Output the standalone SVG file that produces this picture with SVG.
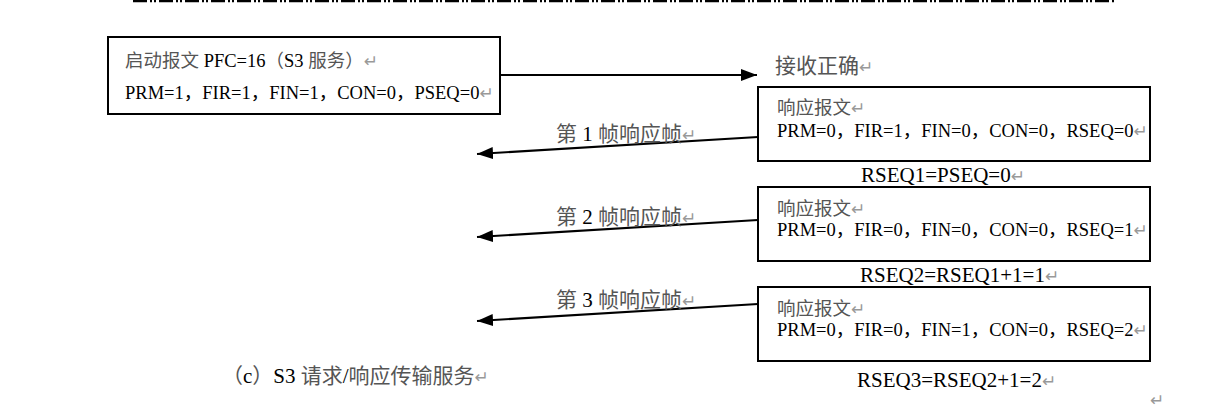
<svg xmlns="http://www.w3.org/2000/svg" width="1220" height="420" viewBox="0 0 1220 420">
<style>
text{font-family:"Liberation Serif","Noto Sans CJK SC",serif;fill:#000}
.s{font-size:18.5px}
.l{font-size:21px}
.cj{fill:#555}
.pm{font-family:"DejaVu Sans",sans-serif;fill:#999;font-size:17px}
.box{fill:#fff;stroke:#000;stroke-width:2}
.ln{stroke:#000;stroke-width:2;fill:none}
</style>
<defs>
<marker id="ah" viewBox="0 0 16 12" refX="16" refY="6" markerWidth="16" markerHeight="12" markerUnits="userSpaceOnUse" orient="auto">
<path d="M0,0 L16,6 L0,12 Z" fill="#000"/>
</marker>
</defs>
<line x1="133" y1="1" x2="1115" y2="1" stroke="#000" stroke-width="2.5" stroke-dasharray="14 3 2 2 2 3"/>
<g id="connectors">
<line class="ln" x1="500" y1="75" x2="757" y2="75" marker-end="url(#ah)"/>
<line class="ln" x1="758" y1="137" x2="477" y2="154" marker-end="url(#ah)"/>
<line class="ln" x1="758" y1="220" x2="477" y2="237" marker-end="url(#ah)"/>
<line class="ln" x1="758" y1="304" x2="477" y2="321" marker-end="url(#ah)"/>
</g>
<g id="request">
<rect class="box" x="108" y="37" width="392" height="77"/>
<text class="s" x="125" y="67"><tspan class="cj">启动报文</tspan> PFC=16<tspan class="cj">（</tspan>S3 <tspan class="cj">服务）</tspan><tspan class="pm">↵</tspan></text>
<text class="s" x="125" y="99">PRM=1，FIR=1，FIN=1，CON=0，PSEQ=0<tspan class="pm">↵</tspan></text>
</g>
<g id="ack">
<text class="l" x="775" y="73"><tspan class="cj">接收正确</tspan><tspan class="pm">↵</tspan></text>
</g>
<g id="resp1">
<rect class="box" x="758" y="87" width="392" height="74"/>
<text class="s" x="777" y="114"><tspan class="cj">响应报文</tspan><tspan class="pm">↵</tspan></text>
<text class="s" x="777" y="137">PRM=0，FIR=1，FIN=0，CON=0，RSEQ=0<tspan class="pm">↵</tspan></text>
</g>
<g id="rseq1"><text class="l" x="861" y="182">RSEQ1=PSEQ=0<tspan class="pm">↵</tspan></text></g>
<g id="resp2">
<rect class="box" x="758" y="187" width="392" height="74"/>
<text class="s" x="777" y="215"><tspan class="cj">响应报文</tspan><tspan class="pm">↵</tspan></text>
<text class="s" x="777" y="236">PRM=0，FIR=0，FIN=0，CON=0，RSEQ=1<tspan class="pm">↵</tspan></text>
</g>
<g id="rseq2"><text class="l" x="860" y="282">RSEQ2=RSEQ1+1=1<tspan class="pm">↵</tspan></text></g>
<g id="resp3">
<rect class="box" x="758" y="287" width="392" height="74"/>
<text class="s" x="777" y="315"><tspan class="cj">响应报文</tspan><tspan class="pm">↵</tspan></text>
<text class="s" x="777" y="336">PRM=0，FIR=0，FIN=1，CON=0，RSEQ=2<tspan class="pm">↵</tspan></text>
</g>
<g id="rseq3"><text class="l" x="857" y="387">RSEQ3=RSEQ2+1=2<tspan class="pm">↵</tspan></text></g>
<g id="labels">
<text class="l" x="556" y="141"><tspan class="cj">第</tspan> 1 <tspan class="cj">帧响应帧</tspan><tspan class="pm">↵</tspan></text>
<text class="l" x="556" y="224"><tspan class="cj">第</tspan> 2 <tspan class="cj">帧响应帧</tspan><tspan class="pm">↵</tspan></text>
<text class="l" x="556" y="307"><tspan class="cj">第</tspan> 3 <tspan class="cj">帧响应帧</tspan><tspan class="pm">↵</tspan></text>
</g>
<g id="caption">
<text class="l" x="222" y="383"><tspan class="cj">（</tspan>c<tspan class="cj">）</tspan>S3 <tspan class="cj">请求</tspan>/<tspan class="cj">响应传输服务</tspan><tspan class="pm">↵</tspan></text>
</g>
<text class="pm" x="1150" y="406">↵</text>
</svg>
